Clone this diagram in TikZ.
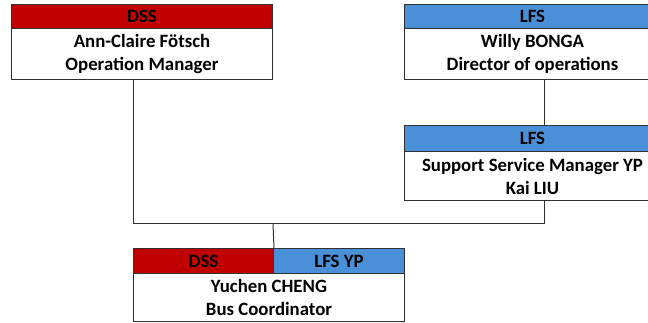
\documentclass[tikz,border=0pt]{standalone}
\usepackage{fontspec}
\setmainfont{Carlito}
\definecolor{dssred}{HTML}{C00000}
\definecolor{lfsblue}{HTML}{4A90D9}
\definecolor{edge}{HTML}{303030}
\begin{document}
\begin{tikzpicture}[x=1pt,y=-1pt,
  box/.style={draw=edge, line width=1pt, inner sep=0pt, anchor=north west,
    align=center, font=\fontsize{18.8}{23}\selectfont\bfseries},
  link/.style={draw=edge, line width=1pt}]
\useasboundingbox (0,0) rectangle (648,323);
\begin{scope}
\clip (0,0) rectangle (648,323);
% DSS operation manager
\node[box, fill=dssred, minimum width=261pt, minimum height=24pt] (acH) at (11,4) {DSS};
\node[box, minimum width=261pt, minimum height=51pt] (acB) at (11,28) {Ann-Claire Fötsch\\Operation Manager};
% LFS director
\node[box, fill=lfsblue, minimum width=256pt, minimum height=24pt] (wbH) at (404,4) {LFS};
\node[box, minimum width=256pt, minimum height=51pt] (wbB) at (404,28) {Willy BONGA\\Director of operations};
% LFS support service manager
\node[box, fill=lfsblue, minimum width=256pt, minimum height=26pt] (klH) at (404,125) {LFS};
\node[box, minimum width=256pt, minimum height=49pt] (klB) at (404,151) {Support Service Manager YP\\Kai LIU};
% bus coordinator, shared between DSS and LFS YP
\node[box, fill=dssred, minimum width=140pt, minimum height=25pt] (ycH1) at (133,248) {DSS};
\node[box, fill=lfsblue, minimum width=131pt, minimum height=25pt] (ycH2) at (273,248) {LFS YP};
\node[box, minimum width=271pt, minimum height=48pt] (ycB) at (133,273) {Yuchen CHENG\\Bus Coordinator};
% junction points of the reporting lines
\coordinate (tap) at (544,0);
\coordinate (jn) at (273,224);
% reporting lines
\draw[link] (wbB.south -| tap) -- (klH.north -| tap);
\draw[link] (klB.south -| tap) |- (ycB.west |- jn) -- (acB.south -| ycB.west);
\draw[link] (jn) -- (ycH1.north east);
\end{scope}
\end{tikzpicture}
\end{document}
